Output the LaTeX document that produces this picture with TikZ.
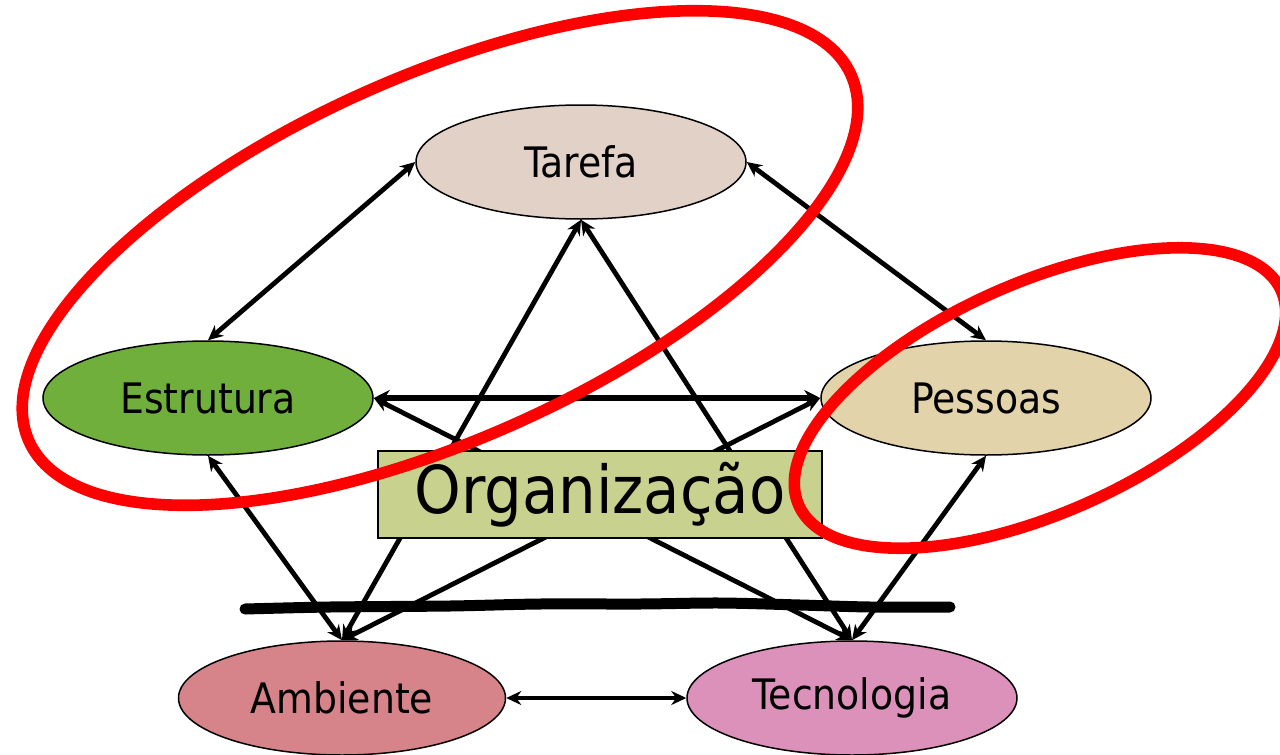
\documentclass[tikz,border=0pt]{standalone}
\usepackage{fontspec}
\setmainfont{DejaVu Sans Condensed}
\usetikzlibrary{arrows.meta,shapes.geometric}
\definecolor{ctarefa}{HTML}{E2D1C7}
\definecolor{cestrutura}{HTML}{71AF3D}
\definecolor{cpessoas}{HTML}{E3D3AB}
\definecolor{cambiente}{HTML}{D6838A}
\definecolor{ctecnologia}{HTML}{DB91BA}
\definecolor{corg}{HTML}{C8D28E}
\definecolor{cred}{HTML}{FF0000}
\tikzset{
  ell/.style={ellipse, draw=black, line width=0.75pt, inner sep=0pt,
    minimum width=165pt, minimum height=57pt,
    font=\fontsize{21}{25}\selectfont},
  conn/.style={line width=2.4pt, {Stealth[length=7.5pt,width=7pt]}-{Stealth[length=7.5pt,width=7pt]}},
  thickconn/.style={line width=3.4pt, {Stealth[length=8pt,width=8pt]}-{Stealth[length=8pt,width=8pt]}},
  orgbox/.style={rectangle, draw=black, line width=0.75pt, fill=corg, inner sep=0pt,
    minimum width=222pt, minimum height=43.5pt,
    font=\fontsize{33}{38}\selectfont},
  scribble/.style={line width=5.5pt, line cap=round, line join=round, black},
  redring/.style={draw=cred, line width=5.8pt}
}
\begin{document}
\begin{tikzpicture}[x=0.5pt,y=-0.5pt]
\useasboundingbox (0,0) rectangle (1280,755);
% nodes
\node[ell, fill=ctarefa] (tar) at (581,162) {Tarefa};
\node[ell, fill=cestrutura] (est) at (208,398) {Estrutura};
\node[ell, fill=cpessoas] (pes) at (986,398) {Pessoas};
\node[ell, fill=cambiente, minimum width=163.5pt] (amb) at (342,698) {Ambiente};
\node[ell, fill=ctecnologia] (tec) at (852,698) {Tecnologia};
% connectors
\draw[conn] (tar.west) -- (est.north);
\draw[conn] (tar.east) -- (pes.north);
\draw[thickconn] (est.east) -- (pes.west);
\draw[conn] (est.south) -- (amb.north);
\draw[conn] (pes.south) -- (tec.north);
\draw[conn] (amb.east) -- (tec.west);
\draw[conn] (tar.south) -- (amb.north);
\draw[conn] (tar.south) -- (tec.north);
\draw[conn] (est.east) -- (tec.north);
\draw[conn] (pes.west) -- (amb.north);
% central box
\node[orgbox] (org) at (600,494.5) {Organização};
% scribble
\draw[scribble] plot[smooth] coordinates {(245,609) (330,607) (450,606) (540,604) (640,604) (720,603) (800,605) (870,607) (950,607)};
% red rings
\draw[redring, rotate around={24:(440,258)}] (440,258) ellipse [x radius=225pt, y radius=91pt];
\draw[redring, rotate around={24:(1040,398)}] (1040,398) ellipse [x radius=132pt, y radius=57.5pt];
\end{tikzpicture}
\end{document}
